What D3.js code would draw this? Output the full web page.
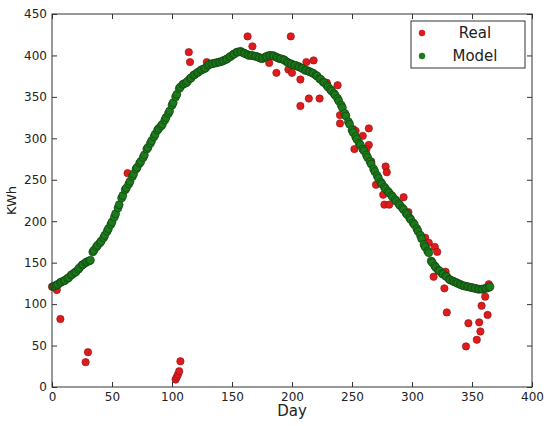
<!DOCTYPE html>
<html>
<head>
<meta charset="utf-8">
<title>KWh per day</title>
<script src="https://cdn.jsdelivr.net/npm/d3@7"></script>
<style>
  body { margin: 0; background: #fff; }
  svg text { font-family: "DejaVu Sans", sans-serif; fill: #222; }
</style>
</head>
<body>
<div id="chart"></div>
<script>
  // ---- data ----
  var xTicks = [0, 50, 100, 150, 200, 250, 300, 350, 400];
  var yTicks = [0, 50, 100, 150, 200, 250, 300, 350, 400, 450];
  var legendLabels = ["Real", "Model"];

  // measured values [day, kWh], only the ones that show past the model
  var realPoints = [
    [0,121],[4,117],[7,82],[28,30],[30,42],[63,258],
    [103,9],[104,12],[105,15],[106,19],[107,31],
    [114,404],[115,392],[129,392],[163,423],[167,411],[181,391],[187,379],
    [197,383],[199,423],[200,379],[207,371],[207,339],[212,392],[218,394],
    [214,348],[223,348],[229,367],[238,364],[240,328],[240,318],
    [251,311],[253,309],[259,303],[264,312],[264,292],[252,287],[262,287],
    [266,272],[278,266],[279,259],[270,244],[276,232],[277,220],[281,220],
    [293,229],[297,211],[311,180],[314,174],[319,169],[321,163],[318,133],
    [328,139],[327,119],[329,90],[345,49],[347,77],[354,57],[357,67],
    [356,78],[358,98],[363,87],[361,109],[364,124]
  ];

  // model values [day, kWh]
  var modelPoints = [
    [1,121],[2,122],[4,123],[5,124],[7,126],[8,127],[10,128],[11,129],
    [13,131],[14,132],[16,135],[17,136],[19,138],[20,139],[22,142],[23,144],
    [25,147],[26,148],[28,150],[29,151],[31,152],[32,153],[34,163],[35,165],
    [37,169],[38,171],[40,174],[41,176],[43,180],[44,183],[46,188],[47,191],
    [49,196],[50,199],[52,205],[53,209],[55,216],[56,220],[58,228],[59,231],
    [61,238],[62,240],[64,245],[65,248],[67,254],[68,257],[70,263],[71,265],
    [73,270],[74,272],[76,277],[77,280],[79,287],[80,289],[82,294],[83,297],
    [85,302],[86,305],[88,310],[89,312],[91,315],[92,317],[94,322],[95,325],
    [97,330],[98,333],[100,340],[101,343],[103,350],[104,353],[106,360],[107,362],
    [109,365],[110,366],[112,367],[113,369],[115,372],[116,373],[118,376],[119,377],
    [121,379],[122,380],[124,382],[125,383],[127,384],[128,385],[130,388],[131,389],
    [133,390],[134,390],[136,391],[137,391],[139,392],[140,392],[142,393],[143,394],
    [145,395],[146,396],[148,398],[149,399],[151,401],[152,402],[154,404],[155,404],
    [157,405],[158,404],[160,403],[161,402],[163,401],[164,400],[166,400],[167,400],
    [169,399],[170,399],[172,398],[173,397],[175,396],[176,397],[178,398],[179,399],
    [181,400],[182,400],[184,400],[185,399],[187,398],[188,397],[190,396],[191,396],
    [193,395],[194,394],[196,392],[197,391],[199,390],[200,389],[202,388],[203,388],
    [205,387],[206,386],[208,385],[209,384],[211,382],[212,382],[214,381],[215,380],
    [217,379],[218,378],[220,376],[221,375],[223,372],[224,371],[226,368],[227,367],
    [229,364],[230,362],[232,359],[233,357],[235,354],[236,352],[238,348],[239,345],
    [241,340],[242,337],[244,330],[245,327],[247,320],[248,317],[250,310],[251,307],
    [253,302],[254,299],[256,294],[257,292],[259,287],[260,285],[262,280],[263,277],
    [265,272],[266,269],[268,263],[269,260],[271,255],[272,252],[274,247],[275,245],
    [277,241],[278,239],[280,236],[281,234],[283,231],[284,229],[286,226],[287,224],
    [289,221],[290,219],[292,216],[293,214],[295,210],[296,208],[298,204],[299,202],
    [301,198],[302,196],[304,191],[305,188],[307,183],[308,179],[310,172],[311,169],
    [313,164],[314,162],[316,152],[317,150],[319,146],[320,144],[322,141],[323,140],
    [325,137],[326,136],[328,134],[329,133],[331,130],[332,129],[334,128],[335,127],
    [337,126],[338,125],[340,124],[341,123],[343,122],[344,122],[346,121],[347,121],
    [349,120],[350,120],[352,119],[353,119],[355,118],[356,118],[358,118],[359,118],
    [361,119],[362,119],[364,120],[365,121]
  ];

  // ---- layout ----
  var width = 547, height = 426;
  var margin = {top: 14, right: 15, bottom: 39, left: 52};
  var plotW = width - margin.left - margin.right;
  var plotH = height - margin.top - margin.bottom;

  var x = d3.scaleLinear().domain([0, 400]).range([0, plotW]);
  var y = d3.scaleLinear().domain([0, 450]).range([plotH, 0]);

  var svg = d3.select("#chart").append("svg")
      .attr("width", width)
      .attr("height", height);

  var g = svg.append("g")
      .attr("transform", "translate(" + margin.left + "," + margin.top + ")");

  // points: real first, model drawn on top
  g.append("g").selectAll("circle").data(realPoints)
    .enter().append("circle")
      .attr("cx", function(d) { return x(d[0]); })
      .attr("cy", function(d) { return y(d[1]); })
      .attr("r", 3.7)
      .style("fill", "#e01b1b")
      .style("stroke", "#8a1010")
      .style("stroke-width", 0.6);

  g.append("g").selectAll("circle").data(modelPoints)
    .enter().append("circle")
      .attr("cx", function(d) { return x(d[0]); })
      .attr("cy", function(d) { return y(d[1]); })
      .attr("r", 4)
      .style("fill", "#1c7a1c")
      .style("stroke", "#0d3a0d")
      .style("stroke-width", 0.6);

  // axes, ticks pointing inward on all four sides
  var tk = 5;
  var bottomAxis = d3.axisBottom(x).tickValues(xTicks).tickSizeInner(-tk).tickSizeOuter(0).tickPadding(5);
  var topAxis = d3.axisTop(x).tickValues(xTicks).tickSizeInner(-tk).tickSizeOuter(0).tickFormat("");
  var leftAxis = d3.axisLeft(y).tickValues(yTicks).tickSizeInner(-tk).tickSizeOuter(0).tickPadding(5);
  var rightAxis = d3.axisRight(y).tickValues(yTicks).tickSizeInner(-tk).tickSizeOuter(0).tickFormat("");

  g.append("g").attr("transform", "translate(0," + plotH + ")").call(bottomAxis);
  g.append("g").call(topAxis);
  g.append("g").call(leftAxis);
  g.append("g").attr("transform", "translate(" + plotW + ",0)").call(rightAxis);

  g.selectAll(".domain").remove();
  g.selectAll(".tick line").style("stroke", "#333");
  g.selectAll(".tick text").style("font-size", "12px").style("fill", "#222");

  g.append("rect")
      .attr("width", plotW)
      .attr("height", plotH)
      .style("fill", "none")
      .style("stroke", "#333")
      .style("stroke-width", 1);

  // axis titles
  svg.append("text")
      .attr("x", margin.left + plotW / 2)
      .attr("y", height - 10)
      .attr("text-anchor", "middle")
      .style("font-size", "15px")
      .text("Day");

  svg.append("text")
      .attr("transform", "translate(16," + (margin.top + plotH / 2) + ") rotate(-90)")
      .attr("text-anchor", "middle")
      .style("font-size", "13px")
      .text("KWh");

  // legend
  var legend = svg.append("g").attr("transform", "translate(411,21)");
  legend.append("rect")
      .attr("width", 114)
      .attr("height", 47)
      .style("fill", "#fff")
      .style("stroke", "#333")
      .style("stroke-width", 1);

  var legendColors = ["#e01b1b", "#1c7a1c"];
  legendLabels.forEach(function(lab, i) {
    legend.append("circle")
        .attr("cx", 11)
        .attr("cy", 12 + i * 23)
        .attr("r", 3.2)
        .style("fill", legendColors[i])
        .style("stroke", "none");
    legend.append("text")
        .attr("x", 64)
        .attr("y", 17 + i * 23)
        .attr("text-anchor", "middle")
        .style("font-size", "15px")
        .text(lab);
  });
</script>
</body>
</html>
